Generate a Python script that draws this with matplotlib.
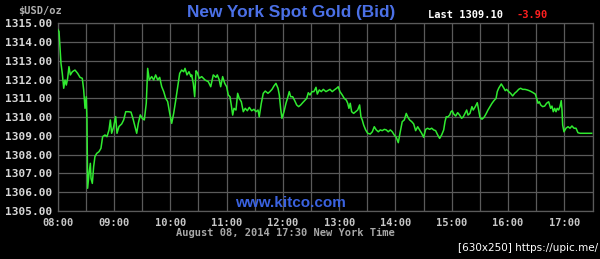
import matplotlib
matplotlib.use("Agg")
import matplotlib.pyplot as plt

# minutes after 08:00 New York time
minutes = [0, 1.4, 2.4, 3.5, 4.9, 6.4, 7.8, 9.2, 10.6, 12.0, 13.5, 15.6, 18.4, 21.3, 23.8, 26.2, 27.7, 29.1, 30.5, 31.2,
           31.9, 33.4, 34.8, 35.5, 36.9, 38.3, 39.7, 41.6, 44.0, 46.1, 47.9, 50.4, 52.5, 54.7, 56.1, 57.5, 59.7, 61.8, 63.2, 65.3,
           68.2, 70.3, 72.5, 75.2, 78.1, 80.2, 82.4, 84.2, 85.9, 88.0, 90.2, 92.3, 94.4, 95.9, 97.6, 100.2, 102.3, 104.4, 106.6, 108.7,
           110.8, 113.0, 115.1, 117.2, 119.4, 121.5, 123.6, 125.8, 127.9, 130.0, 132.1, 134.3, 135.7, 137.8, 139.9, 142.1,
           142.8, 144.5, 146.0, 147.4, 148.8, 150.9, 153.5, 157.0, 160.5, 163.1, 165.8, 168.7, 170.1, 172.2, 173.7, 175.8, 178.0,
           180.1, 181.8, 183.6, 185.0, 186.5, 187.9, 190.0, 191.8, 193.5, 195.7, 197.8, 199.9, 202.1, 204.2, 206.7, 209.2, 211.3,
           213.5, 214.8, 217.0, 219.1, 221.2, 224.1, 226.2, 228.4, 230.5, 232.6, 234.8, 236.2, 237.6, 239.0, 241.2, 243.3, 245.4,
           246.8, 248.3, 250.4, 252.6, 254.7, 256.8, 259.0, 261.1, 263.2, 265.4, 267.1, 268.9, 271.0, 273.1, 275.3, 276.7, 278.8,
           280.9, 283.1, 285.9, 290.2, 292.6, 294.8, 297.3, 299.0, 300.8, 303.3, 305.4, 307.6, 309.1, 310.4, 311.8, 313.3, 315.4,
           317.6, 319.7, 321.8, 323.2, 324.6, 326.1, 328.2, 330.4, 333.1, 335.3, 337.4, 339.5, 341.7, 343.8, 345.9, 348.1, 350.2,
           352.3, 354.5, 356.6, 358.7, 360.8, 363.0, 365.1, 367.2, 369.4, 371.5, 373.0, 375.1, 377.3, 379.4, 381.5, 383.7, 385.8,
           387.9, 390.0, 392.2, 394.3, 396.4, 398.6, 400.7, 402.8, 405.0, 407.1, 409.2, 411.4, 412.8, 414.1, 415.6, 417.8, 419.2,
           420.5, 422.0, 424.2, 426.3, 428.4, 430.5, 432.3, 434.1, 435.9, 437.3, 439.4, 441.5, 442.9, 445.1, 447.2, 448.7, 450.1,
           452.2, 454.4, 456.5, 458.6, 460.8, 462.9, 465.0, 467.2, 468.5, 470.0, 471.4, 472.8, 474.2, 475.6, 477.0, 478.5, 480.6,
           482.7, 484.9, 487.0, 489.1, 491.3, 493.4, 495.5, 498.0, 500.4, 502.6, 504.7, 506.8, 509.0, 510.5, 511.9, 513.3, 514.8,
           516.9, 519.0, 521.1, 523.3, 525.4, 526.8, 528.2, 529.7, 531.1, 532.4, 533.9, 535.3, 536.7, 537.5, 538.2, 539.6, 541.7,
           543.9, 546.0, 548.1, 550.3, 552.4, 554.5, 556.7, 560.2, 563.8, 569.1]

prices = [1314.68, 1314.56, 1313.76, 1312.87, 1312.33, 1311.54, 1311.98, 1311.71, 1312.07, 1312.69, 1312.25, 1312.42, 1312.51, 1312.33, 1312.12, 1312.07, 1311.45, 1310.47, 1311.09, 1309.85,
          1306.21, 1307.00, 1307.54, 1306.74, 1306.47, 1307.36, 1307.90, 1308.07, 1308.16, 1308.34, 1308.96, 1309.05, 1308.96, 1309.32, 1309.85, 1309.14, 1309.50, 1310.03, 1309.14, 1309.50,
          1309.64, 1309.85, 1310.29, 1310.29, 1310.27, 1309.93, 1309.50, 1309.14, 1309.67, 1310.12, 1309.93, 1309.85, 1310.74, 1312.60, 1311.98, 1312.16, 1311.98, 1312.25, 1311.98, 1312.12,
          1311.63, 1311.36, 1311.00, 1310.83, 1310.20, 1309.67, 1310.20, 1310.90, 1311.63, 1312.33, 1312.51, 1312.42, 1312.60, 1312.25, 1312.42, 1312.16,
          1312.25, 1311.80, 1311.09, 1312.47, 1312.37, 1312.07, 1312.16, 1311.98, 1311.89, 1311.62, 1312.25, 1312.12, 1312.25, 1311.98, 1311.62, 1312.16, 1311.80,
          1311.62, 1311.18, 1311.09, 1310.65, 1310.11, 1310.47, 1310.38, 1311.27, 1311.00, 1310.82, 1310.29, 1310.47, 1310.34, 1310.52, 1310.34, 1310.42, 1310.29,
          1310.38, 1310.02, 1310.74, 1311.27, 1311.39, 1311.27, 1311.36, 1311.48, 1311.66, 1311.80, 1311.54, 1311.18, 1310.47, 1309.94, 1310.29, 1310.74, 1311.09,
          1311.36, 1311.09, 1311.09, 1310.88, 1310.65, 1310.56, 1310.65, 1310.77, 1310.88, 1311.00, 1311.30, 1311.18, 1311.36, 1311.36, 1311.59, 1311.23, 1311.45,
          1311.36, 1311.48, 1311.36, 1311.48, 1311.36, 1311.45, 1311.54, 1311.62, 1311.36, 1311.18, 1311.00, 1310.91, 1310.74, 1310.47, 1310.74, 1310.29, 1310.20,
          1310.29, 1310.38, 1310.65, 1310.02, 1309.85, 1309.58, 1309.32, 1309.14, 1309.10, 1309.22, 1309.49, 1309.32, 1309.22, 1309.32, 1309.28, 1309.35, 1309.32,
          1309.22, 1309.32, 1309.22, 1309.05, 1308.93, 1308.64, 1309.22, 1309.76, 1309.85, 1310.20, 1310.02, 1309.85, 1309.76, 1309.64, 1309.28, 1309.49, 1309.32,
          1309.14, 1308.93, 1309.35, 1309.41, 1309.35, 1309.41, 1309.32, 1309.28, 1309.05, 1308.87, 1309.05, 1309.32, 1309.76, 1310.02, 1310.00, 1310.11, 1310.29,
          1310.34, 1310.17, 1310.06, 1310.24, 1310.11, 1309.94, 1310.02, 1310.20, 1310.38, 1310.11, 1310.20, 1310.56, 1310.38, 1310.56, 1310.77, 1310.38, 1309.99,
          1309.89, 1309.99, 1310.17, 1310.38, 1310.56, 1310.74, 1310.88, 1311.00, 1311.36, 1311.54, 1311.66, 1311.77, 1311.66, 1311.54, 1311.41, 1311.48, 1311.36,
          1311.27, 1311.13, 1311.27, 1311.36, 1311.48, 1311.54, 1311.48, 1311.48, 1311.45, 1311.41, 1311.36, 1311.30, 1311.23, 1311.00, 1310.74, 1310.82, 1310.65,
          1310.56, 1310.59, 1310.74, 1310.82, 1310.47, 1310.59, 1310.29, 1310.47, 1310.29, 1310.47, 1310.38, 1310.56, 1310.88, 1310.38, 1309.58, 1309.22, 1309.41,
          1309.49, 1309.41, 1309.53, 1309.41, 1309.41, 1309.17, 1309.14, 1309.14, 1309.14, 1309.14]

y_ticks = [1305, 1306, 1307, 1308, 1309, 1310, 1311, 1312, 1313, 1314, 1315]
x_tick_labels = ["08:00", "09:00", "10:00", "11:00", "12:00", "13:00", "14:00", "15:00", "16:00", "17:00"]

W, H = 600, 259
fig = plt.figure(figsize=(W / 100, H / 100), dpi=100, facecolor="black")
ax = fig.add_axes([57.7 / W, 1 - 211 / H, (592.5 - 57.7) / W, (211 - 23.3) / H])
ax.set_facecolor("black")

ax.plot(minutes, prices, color="#30ea30", lw=1.1, zorder=3)

ax.set_xlim(0, 570)
ax.set_ylim(1305, 1315)
ax.set_xticks([i * 60 for i in range(len(x_tick_labels))])
ax.set_xticklabels(x_tick_labels)
ax.set_xticks(range(30, 571, 60), minor=True)
ax.set_yticks(y_ticks)
ax.set_yticklabels([f"{v:.2f}" for v in y_ticks])

ax.grid(True, which="both", color="#5a5a5a", lw=0.9, zorder=1)
for s in ax.spines.values():
    s.set_color("#5a5a5a")
    s.set_linewidth(0.9)
ax.tick_params(which="both", length=0)
ax.tick_params(axis="y", pad=4, labelsize=8, labelcolor="#d8d8d8")
ax.tick_params(axis="x", pad=5, labelsize=7.5, labelcolor="#c8c8c8")
for lab in ax.get_xticklabels() + ax.get_yticklabels():
    lab.set_fontfamily("DejaVu Sans Mono")
    lab.set_fontweight("bold")

def px(x, y):
    return x / W, 1 - y / H

fig.text(*px(40, 11), "$USD/oz", color="#b0b0b0", fontsize=7.5, fontweight="bold",
         family="DejaVu Sans Mono", ha="center", va="center")
fig.text(*px(291, 12), "New York Spot Gold (Bid)", color="#4b70e6", fontsize=12.4, fontweight="bold",
         family="Liberation Sans", ha="center", va="center")
fig.text(*px(428, 15), "Last 1309.10", color="white", fontsize=7.5, fontweight="bold",
         family="DejaVu Sans Mono", ha="left", va="center")
fig.text(*px(516, 15), "-3.90", color="#ff2020", fontsize=7.5, fontweight="bold",
         family="DejaVu Sans Mono", ha="left", va="center")
fig.text(*px(290, 203), "www.kitco.com", color="#3a62e0", fontsize=11, fontweight="bold",
         family="Liberation Sans", ha="center", va="center")
fig.text(*px(285, 233), "August 08, 2014 17:30 New York Time", color="#a8a8a8", fontsize=7.5,
         fontweight="bold", family="DejaVu Sans Mono", ha="center", va="center")
fig.text(*px(598, 248), "[630x250] https://upic.me/", color="white", fontsize=7.5,
         family="DejaVu Sans", ha="right", va="center")

fig.savefig("out.png", dpi=100, facecolor="black")
